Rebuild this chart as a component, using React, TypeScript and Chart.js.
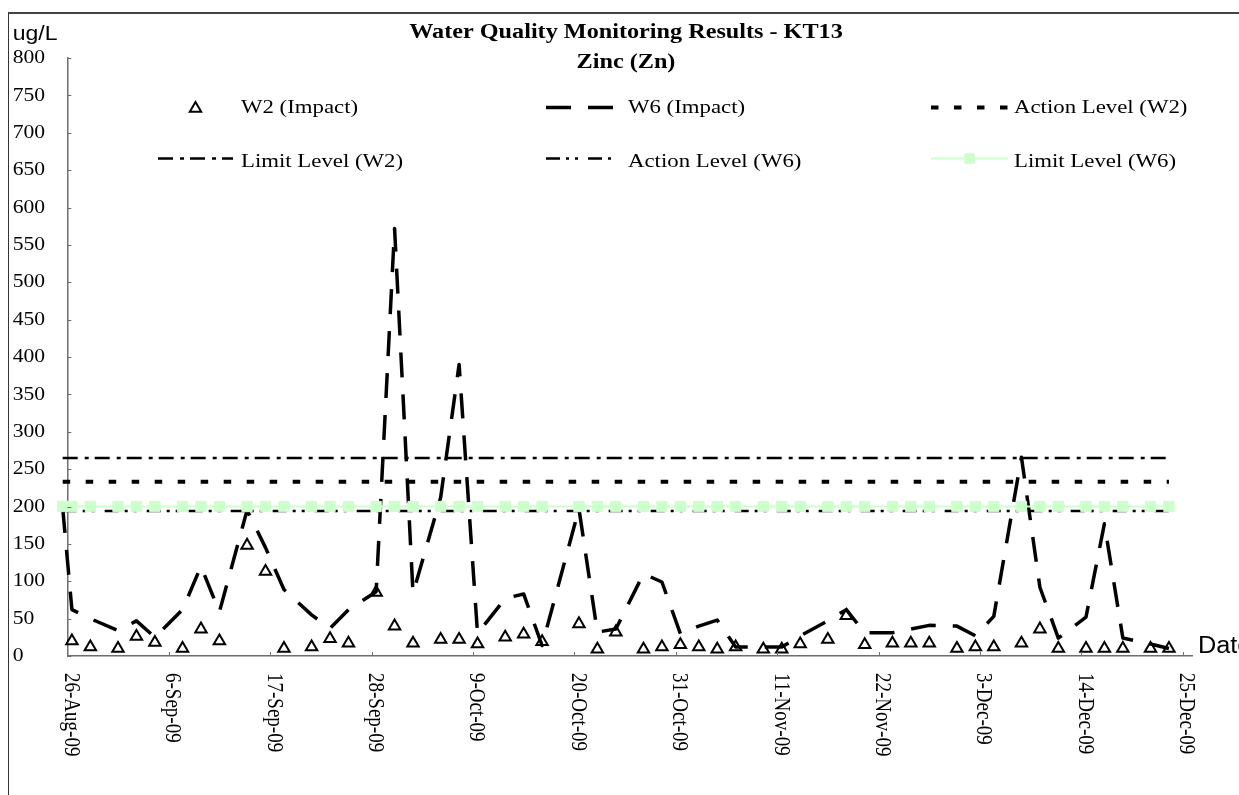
import React, { useEffect, useRef } from 'react';
import { Chart, registerables } from 'chart.js';

Chart.register(...registerables);

// ---------- data ----------
const sampleDates = [
  '2009-08-25', '2009-08-26', '2009-08-28', '2009-08-31', '2009-09-02', '2009-09-04',
  '2009-09-07', '2009-09-09', '2009-09-11', '2009-09-14', '2009-09-16', '2009-09-18',
  '2009-09-21', '2009-09-23', '2009-09-25', '2009-09-28', '2009-09-30', '2009-10-02',
  '2009-10-05', '2009-10-07', '2009-10-09', '2009-10-12', '2009-10-14', '2009-10-16',
  '2009-10-20', '2009-10-22', '2009-10-24', '2009-10-27', '2009-10-29', '2009-10-31',
  '2009-11-02', '2009-11-04', '2009-11-06', '2009-11-09', '2009-11-11', '2009-11-13',
  '2009-11-16', '2009-11-18', '2009-11-20', '2009-11-23', '2009-11-25', '2009-11-27',
  '2009-11-30', '2009-12-02', '2009-12-04', '2009-12-07', '2009-12-09', '2009-12-11',
  '2009-12-14', '2009-12-16', '2009-12-18', '2009-12-21', '2009-12-23',
];

const w2Impact: (number | null)[] = [
  null, 20, 12, 10, 26, 18,
  10, 36, 20, 148, 113, 10,
  12, 23, 17, 85, 40, 17,
  22, 22, 16, 25, 29, 19,
  43, 9, 32, 9, 12, 15,
  12, 9, 12, 9, 9, 16,
  22, 54, 15, 17, 17, 17,
  10, 12, 12, 17, 36, 10,
  10, 10, 10, 10, 10,
];

const w6Impact: number[] = [
  198, 62, 50, 34, 47, 25,
  62, 120, 59, 195, 145, 89,
  55, 37, 62, 86, 572, 84,
  212, 390, 30, 77, 83, 14,
  197, 32, 36, 110, 99, 30,
  40, 48, 12, 12, 12, 27,
  47, 62, 31, 31, 36, 41,
  40, 27, 53, 266, 92, 24,
  52, 177, 24, 16, 10,
];

const actionLevelW2 = 233;
const limitLevelW2 = 265;
const actionLevelW6 = 194;
const limitLevelW6 = 200;

const seriesNames = [
  'W2 (Impact)',
  'W6 (Impact)',
  'Action Level (W2)',
  'Limit Level (W2)',
  'Action Level (W6)',
  'Limit Level (W6)',
];

const axisStartDate = '2009-08-26';
const axisEndDate = '2009-12-26';
const tickStepDays = 11;
const yMin = 0;
const yMax = 800;
const yStep = 50;

const chartTitle = 'Water Quality Monitoring Results - KT13';
const chartSubtitle = 'Zinc (Zn)';
const yUnitLabel = 'ug/L';
const xAxisLabel = 'Date';

const MONTHS = ['Jan', 'Feb', 'Mar', 'Apr', 'May', 'Jun', 'Jul', 'Aug', 'Sep', 'Oct', 'Nov', 'Dec'];
const DAY_MS = 86400000;
const dayOf = (s: string) => Math.round((Date.parse(s) - Date.parse(axisStartDate)) / DAY_MS);
const fmtDay = (day: number) => {
  const d = new Date(Date.parse(axisStartDate) + day * DAY_MS);
  return `${d.getUTCDate()}-${MONTHS[d.getUTCMonth()]}-${String(d.getUTCFullYear()).slice(2)}`;
};

// ---------- styles ----------
const SERIF = '"Liberation Serif", "Times New Roman", serif';
const SANS = '"Liberation Sans Narrow", "Liberation Sans", Arial, sans-serif';
const SX = 1.2; // horizontal stretch of the original picture
const AXIS_COLOR = '#6e6e6e';
const GREEN = '#ccffcc';

function App() {
  const ref = useRef<HTMLCanvasElement>(null);

  useEffect(() => {
    const canvas = ref.current;
    if (!canvas) return;

    const pts = (vals: (number | null)[]) =>
      sampleDates
        .map((d, i) => ({ x: dayOf(d), y: vals[i] }))
        .filter((p) => p.y !== null) as { x: number; y: number }[];
    const level = (v: number) => pts(sampleDates.map(() => v));

    const xMin = dayOf(axisStartDate) - 0.5;
    const xMax = dayOf(axisEndDate) - 0.5;

    const drawText = (
      ctx: CanvasRenderingContext2D,
      text: string,
      x: number,
      y: number,
      font: string,
      align: CanvasTextAlign,
      baseline: CanvasTextBaseline,
      sx = SX,
    ) => {
      ctx.save();
      ctx.translate(x, y);
      ctx.scale(sx, 1);
      ctx.font = font;
      ctx.textAlign = align;
      ctx.textBaseline = baseline;
      ctx.fillStyle = '#000';
      ctx.fillText(text, 0, 0);
      ctx.restore();
    };

    const drawTriangle = (ctx: CanvasRenderingContext2D, x: number, y: number, r: number, lw: number) => {
      ctx.save();
      ctx.beginPath();
      let rad = 0;
      for (let k = 0; k < 3; k++) {
        const px = x + Math.sin(rad) * r;
        const py = y - Math.cos(rad) * r;
        if (k === 0) ctx.moveTo(px, py);
        else ctx.lineTo(px, py);
        rad += (2 * Math.PI) / 3;
      }
      ctx.closePath();
      ctx.fillStyle = '#fff';
      ctx.fill();
      ctx.lineWidth = lw;
      ctx.strokeStyle = '#000';
      ctx.stroke();
      ctx.restore();
    };

    const decor = {
      id: 'decor',
      afterDraw(chart: any) {
        const ctx: CanvasRenderingContext2D = chart.ctx;
        const xs = chart.scales.x;
        const ys = chart.scales.y;
        const area = chart.chartArea;
        ctx.save();

        // inside tick marks
        ctx.strokeStyle = AXIS_COLOR;
        ctx.lineWidth = 1;
        ys.ticks.forEach((t: any) => {
          const py = Math.round(ys.getPixelForValue(t.value)) + 0.5;
          ctx.beginPath();
          ctx.moveTo(area.left, py);
          ctx.lineTo(area.left + 4, py);
          ctx.stroke();
        });
        xs.ticks.forEach((t: any) => {
          const px = Math.round(xs.getPixelForValue(t.value)) + 0.5;
          ctx.beginPath();
          ctx.moveTo(px, area.bottom);
          ctx.lineTo(px, area.bottom - 4);
          ctx.stroke();
        });

        // y tick labels
        ys.ticks.forEach((t: any) => {
          drawText(ctx, String(t.value), 12.7, ys.getPixelForValue(t.value) + 0.5, `18px ${SERIF}`, 'left', 'middle');
        });

        // x tick labels (rotated clockwise)
        xs.ticks.forEach((t: any) => {
          const px = xs.getPixelForValue(t.value);
          ctx.save();
          ctx.translate(px + 3.5, area.bottom + 17);
          ctx.rotate(Math.PI / 2);
          ctx.scale(1, SX);
          ctx.font = `19px ${SERIF}`;
          ctx.textAlign = 'left';
          ctx.textBaseline = 'middle';
          ctx.fillStyle = '#000';
          ctx.fillText(fmtDay(Math.round(t.value + 0.5)), 0, 0);
          ctx.restore();
        });

        // titles and axis names
        const cx = 626;
        drawText(ctx, chartTitle, cx, 38.3, `bold 20px ${SERIF}`, 'center', 'alphabetic', 1.21);
        drawText(ctx, chartSubtitle, cx, 68.3, `bold 20px ${SERIF}`, 'center', 'alphabetic', 1.21);
        drawText(ctx, yUnitLabel, 12.7, 39.5, `20px ${SANS}`, 'left', 'alphabetic', 1.15);
        drawText(ctx, xAxisLabel, 1198, 653, `23px ${SANS}`, 'left', 'alphabetic', 1.1);

        // legend
        const ds = chart.data.datasets;
        const rows = [107.5, 158.5];
        const textBase = [112.5, 167];
        const cols = [
          { s0: 158, s1: 233, tx: 241 },
          { s0: 546, s1: 613, tx: 628 },
          { s0: 931, s1: 1008, tx: 1014 },
        ];
        const layout = [
          [0, 0, 0],
          [1, 0, 1],
          [2, 0, 2],
          [3, 1, 0],
          [4, 1, 1],
          [5, 1, 2],
        ];
        layout.forEach(([di, r, c]) => {
          const d = ds[di];
          const col = cols[c];
          const y = rows[r];
          if (d.showLine === false) {
            drawTriangle(ctx, (col.s0 + col.s1) / 2, y + 1, d.pointRadius, d.pointBorderWidth);
          } else {
            ctx.save();
            ctx.strokeStyle = d.borderColor;
            ctx.lineWidth = d.borderWidth;
            ctx.setLineDash(d.borderDash || []);
            ctx.lineCap = 'butt';
            ctx.beginPath();
            ctx.moveTo(col.s0, y);
            ctx.lineTo(col.s1, y);
            ctx.stroke();
            ctx.restore();
            if (d.pointRadius > 0) {
              const side = 10.5;
              ctx.save();
              ctx.fillStyle = d.pointBackgroundColor;
              ctx.fillRect((col.s0 + col.s1) / 2 - side / 2, y - side / 2, side, side);
              ctx.restore();
            }
          }
          drawText(ctx, d.label, col.tx, textBase[r], `19px ${SERIF}`, 'left', 'alphabetic');
        });

        ctx.restore();
      },
    };

    const chart = new Chart(canvas, {
      type: 'line',
      data: {
        datasets: [
          {
            label: seriesNames[0],
            data: pts(w2Impact),
            showLine: false,
            pointStyle: 'triangle',
            pointRadius: 6.6,
            pointBorderWidth: 2,
            pointBorderColor: '#000',
            pointBackgroundColor: '#fff',
            borderColor: '#000',
            order: 6,
            clip: false,
          },
          {
            label: seriesNames[1],
            data: pts(w6Impact),
            borderColor: '#000',
            borderWidth: 3.5,
            borderDash: [25, 17],
            borderJoinStyle: 'round',
            pointRadius: 0,
            tension: 0,
            order: 5,
            clip: false,
          },
          {
            label: seriesNames[2],
            data: level(actionLevelW2),
            borderColor: '#000',
            borderWidth: 4,
            borderDash: [7.5, 15.5],
            pointRadius: 0,
            order: 4,
            clip: false,
          },
          {
            label: seriesNames[3],
            data: level(limitLevelW2),
            borderColor: '#000',
            borderWidth: 2.5,
            borderDash: [15, 7, 4, 6],
            pointRadius: 0,
            order: 3,
            clip: false,
          },
          {
            label: seriesNames[4],
            data: level(actionLevelW6),
            borderColor: '#000',
            borderWidth: 2.5,
            borderDash: [14, 6, 3, 6, 3, 10],
            pointRadius: 0,
            order: 2,
            clip: false,
          },
          {
            label: seriesNames[5],
            data: level(limitLevelW6),
            borderColor: GREEN,
            borderWidth: 2,
            pointStyle: 'rect',
            pointRadius: 7.3,
            pointBorderWidth: 1,
            pointBorderColor: GREEN,
            pointBackgroundColor: GREEN,
            order: 1,
            clip: false,
          },
        ] as any,
      },
      options: {
        animation: false,
        responsive: false,
        devicePixelRatio: 1,
        events: [],
        layout: { padding: { left: 12.7, top: 58, right: 47, bottom: 0 } },
        plugins: {
          legend: { display: false },
          title: { display: false },
          tooltip: { enabled: false },
        },
        scales: {
          x: {
            type: 'linear',
            min: xMin,
            max: xMax,
            grid: { display: false },
            border: { display: true, color: AXIS_COLOR, width: 1.5 },
            ticks: { display: false },
            afterBuildTicks: (s: any) => {
              const ticks = [];
              for (let v = xMin; v <= xMax - 0.99; v += tickStepDays) ticks.push({ value: v });
              s.ticks = ticks;
            },
            afterFit: (s: any) => {
              s.height = 139;
            },
          },
          y: {
            min: yMin,
            max: yMax,
            grid: { display: false },
            border: { display: true, color: AXIS_COLOR, width: 1.5 },
            ticks: { display: false, stepSize: yStep },
            afterFit: (s: any) => {
              s.width = 54.6;
            },
          },
        },
      } as any,
      plugins: [decor],
    });

    return () => chart.destroy();
  }, []);

  return (
    <>
      <div
        style={{
          position: 'fixed',
          left: 8,
          top: 12,
          right: 0,
          bottom: 0,
          borderLeft: '1px solid #333',
          borderTop: '2px solid #444',
        }}
      />
      <canvas
        ref={ref}
        width={1239}
        height={795}
        style={{ position: 'fixed', left: 0, top: 0, width: 1239, height: 795 }}
      />
    </>
  );
}

export default App;
